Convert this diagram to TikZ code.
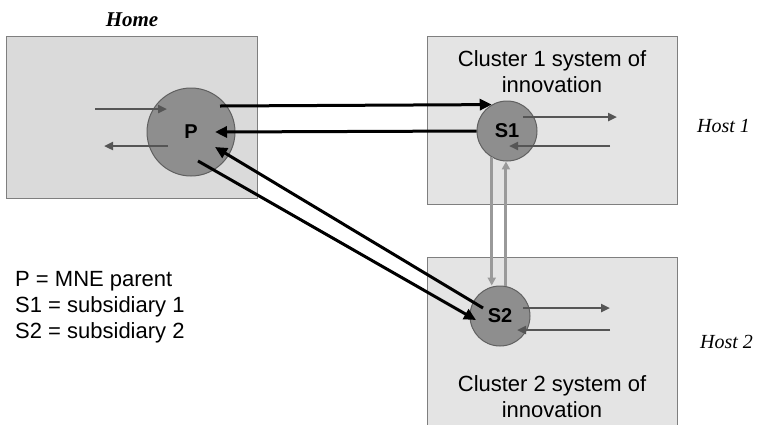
\documentclass[tikz,border=0pt]{standalone}
\usepackage{fontspec}
\setmainfont{Liberation Sans}
\newfontfamily\tnr{Liberation Serif}
\usetikzlibrary{arrows.meta}
\definecolor{homegray}{HTML}{DADADA}
\definecolor{boxlight}{HTML}{E4E4E4}
\definecolor{edgegray}{HTML}{7F7F7F}
\definecolor{firmgray}{HTML}{8E8E8E}
\definecolor{ringgray}{HTML}{606060}
\definecolor{localgray}{HTML}{555555}
\definecolor{linkgray}{HTML}{9A9A9A}

\begin{document}
\begin{tikzpicture}[x=1pt,y=-1pt,
    region/.style={draw=edgegray, fill=homegray, line width=1pt, inner sep=0pt},
    firm/.style={circle, draw=ringgray, fill=firmgray, line width=1pt, inner sep=0pt,
      minimum size=#1, font=\fontsize{20}{24}\selectfont\bfseries},
    flow/.style={line width=3pt, draw=black, -{Triangle[length=12pt,width=11pt]}},
    local/.style={line width=2.5pt, draw=localgray, -{Triangle[length=9pt,width=8pt]}},
    link/.style={line width=3pt, draw=linkgray, -{Triangle[length=8pt,width=8pt]}},
    txt/.style={font=\fontsize{22}{25.6}\selectfont, inner sep=0pt}]
  \clip (0,0) rectangle (757,424);
  % regions
  \node[region, minimum width=251pt, minimum height=162pt] (home) at (131.5,117) {};
  \node[region, fill=boxlight, minimum width=250pt, minimum height=168pt] (clus1) at (552,120) {};
  \node[region, fill=boxlight, minimum width=250pt, minimum height=190pt] (clus2) at (552,352) {};
  \node[font=\tnr\fontsize{21}{24}\selectfont\bfseries\itshape, anchor=base, inner sep=0pt] (homelbl) at (132,26.7) {Home};
  \node[txt, align=center, anchor=base] (c1lbl) at (552,92.3) {Cluster 1 system of\\innovation};
  \node[txt, align=center, anchor=base] (c2lbl) at (552,417.5) {Cluster 2 system of\\innovation};
  \node[font=\tnr\fontsize{20}{24}\selectfont\itshape, anchor=base west, inner sep=0pt] (host1) at (697,132) {Host 1};
  \node[font=\tnr\fontsize{20}{24}\selectfont\itshape, anchor=base west, inner sep=0pt] (host2) at (700,348) {Host 2};
  \node[txt, align=left, anchor=base west] (key) at (15,338) {P = MNE parent\\S1 = subsidiary 1\\S2 = subsidiary 2};
  % firms
  \node[firm=88pt] (P) at (191,132) {P};
  \node[firm=60pt] (S1) at (507,131) {S1};
  \node[firm=60pt] (S2) at (500,316) {S2};
  % local flows
  \coordinate (homein) at (95,109);
  \coordinate (homeout) at (104,146);
  \coordinate (s1out) at (617,117);
  \coordinate (s1in) at (610,146);
  \coordinate (s2out) at (610,308);
  \coordinate (s2in) at (610,330);
  \draw[local] (homein) -- ([xshift=-24pt,yshift=23pt]P.center);
  \draw[local] ([xshift=-23pt,yshift=-14pt]P.center) -- (homeout);
  \draw[local] ([xshift=16pt,yshift=14pt]S1.center) -- (s1out);
  \draw[local] (s1in) -- ([xshift=2pt,yshift=-15pt]S1.center);
  \draw[local] ([xshift=23pt,yshift=8pt]S2.center) -- (s2out);
  \draw[local] (s2in) -- ([xshift=17pt,yshift=-14pt]S2.center);
  % links between subsidiaries
  \draw[link] (S1.240) -- (S1.240 |- S2.north);
  \draw[link] (S1.268 |- S2.north) -- (S1.268);
  % flows with the parent
  \draw[flow] ([xshift=29pt,yshift=26pt]P.center) -- (S1.120);
  \draw[flow] (S1.west) -- ([xshift=24pt]P.center);
  \draw[flow] ([xshift=-17pt,yshift=8pt]S2.center) -- ([xshift=24pt,yshift=-15pt]P.center);
  \draw[flow] ([xshift=7pt,yshift=-29pt]P.center) -- ([xshift=-24pt,yshift=-4pt]S2.center);
\end{tikzpicture}
\end{document}
